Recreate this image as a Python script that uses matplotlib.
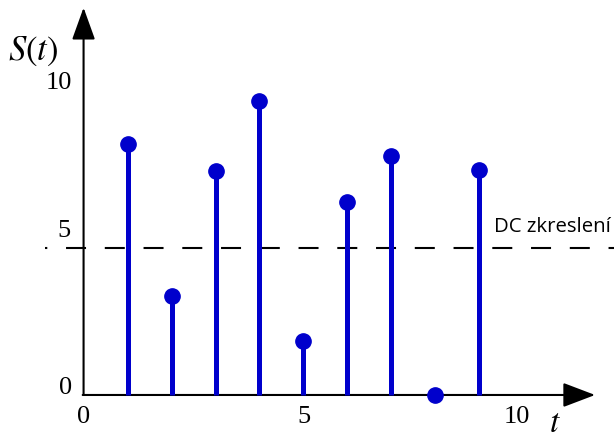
import matplotlib
matplotlib.use("Agg")
import matplotlib.pyplot as plt
import numpy as np

# samples of the signal
t = [1, 2, 3, 4, 5, 6, 7, 8, 9]
s = [8.55, 3.37, 7.62, 10.0, 1.84, 6.56, 8.13, 0.0, 7.65]
dc_level = 5
dc_label = "DC zkreslení"
x_ticks = [0, 5, 10]
y_ticks = [0, 5, 10]

plt.rcParams['mathtext.fontset'] = 'stix'
blue = '#0000cc'

fig = plt.figure(figsize=(6.14, 4.42), dpi=100)
ax = fig.add_axes([0, 0, 1, 1])
ax.set_xlim(-1.90, 12.06)
ax.set_ylim(-1.6, 13.44)
ax.axis('off')

# DC level
ax.plot([-0.88, 12.06], [dc_level, dc_level], color='black', lw=1.5,
        linestyle=(8.5, (9.6, 9.0)), zorder=1)
ax.annotate(dc_label, xy=(9.33, dc_level), xytext=(0, 8), textcoords='offset points',
            fontsize=14.7, family='Open Sans', va='bottom', ha='left')

# axes with arrows
ax.annotate('', xy=(0, 13.18), xytext=(0, 0),
            arrowprops=dict(arrowstyle='-|>,head_length=1.0,head_width=0.36',
                            mutation_scale=20, lw=1.5, color='black',
                            shrinkA=0, shrinkB=0), zorder=2)
ax.annotate('', xy=(11.63, 0), xytext=(-0.02, 0),
            arrowprops=dict(arrowstyle='-|>,head_length=1.0,head_width=0.38',
                            mutation_scale=20, lw=1.5, color='black',
                            shrinkA=0, shrinkB=0), zorder=2)

# stems
markers, stems, base = ax.stem(t, s, basefmt=' ')
plt.setp(stems, color=blue, linewidth=3.6, zorder=3)
plt.setp(markers, color=blue, markersize=11, zorder=4)

# tick labels
y_off = {0: (-8, 5), 5: (-9.5, 12), 10: (-8, 13)}
for v in y_ticks:
    ax.annotate(str(v), xy=(0, v), xytext=y_off[v], textcoords='offset points',
                fontsize=19, family='Liberation Serif', ha='right', va='center')
x_off = {0: 0, 5: 0, 10: -5}
for v in x_ticks:
    ax.annotate(str(v), xy=(v, 0), xytext=(x_off[v], -16), textcoords='offset points',
                fontsize=19, family='Liberation Serif', ha='center', va='center')

ax.annotate('$S(t)$', xy=(0, 13.18), xytext=(-36, -31), textcoords='offset points',
            fontsize=25, ha='center', va='center')
ax.annotate('$t$', xy=(11.63, 0), xytext=(-29, -31.5), textcoords='offset points',
            fontsize=24, ha='center', va='bottom')

fig.savefig('out.png', dpi=100)
